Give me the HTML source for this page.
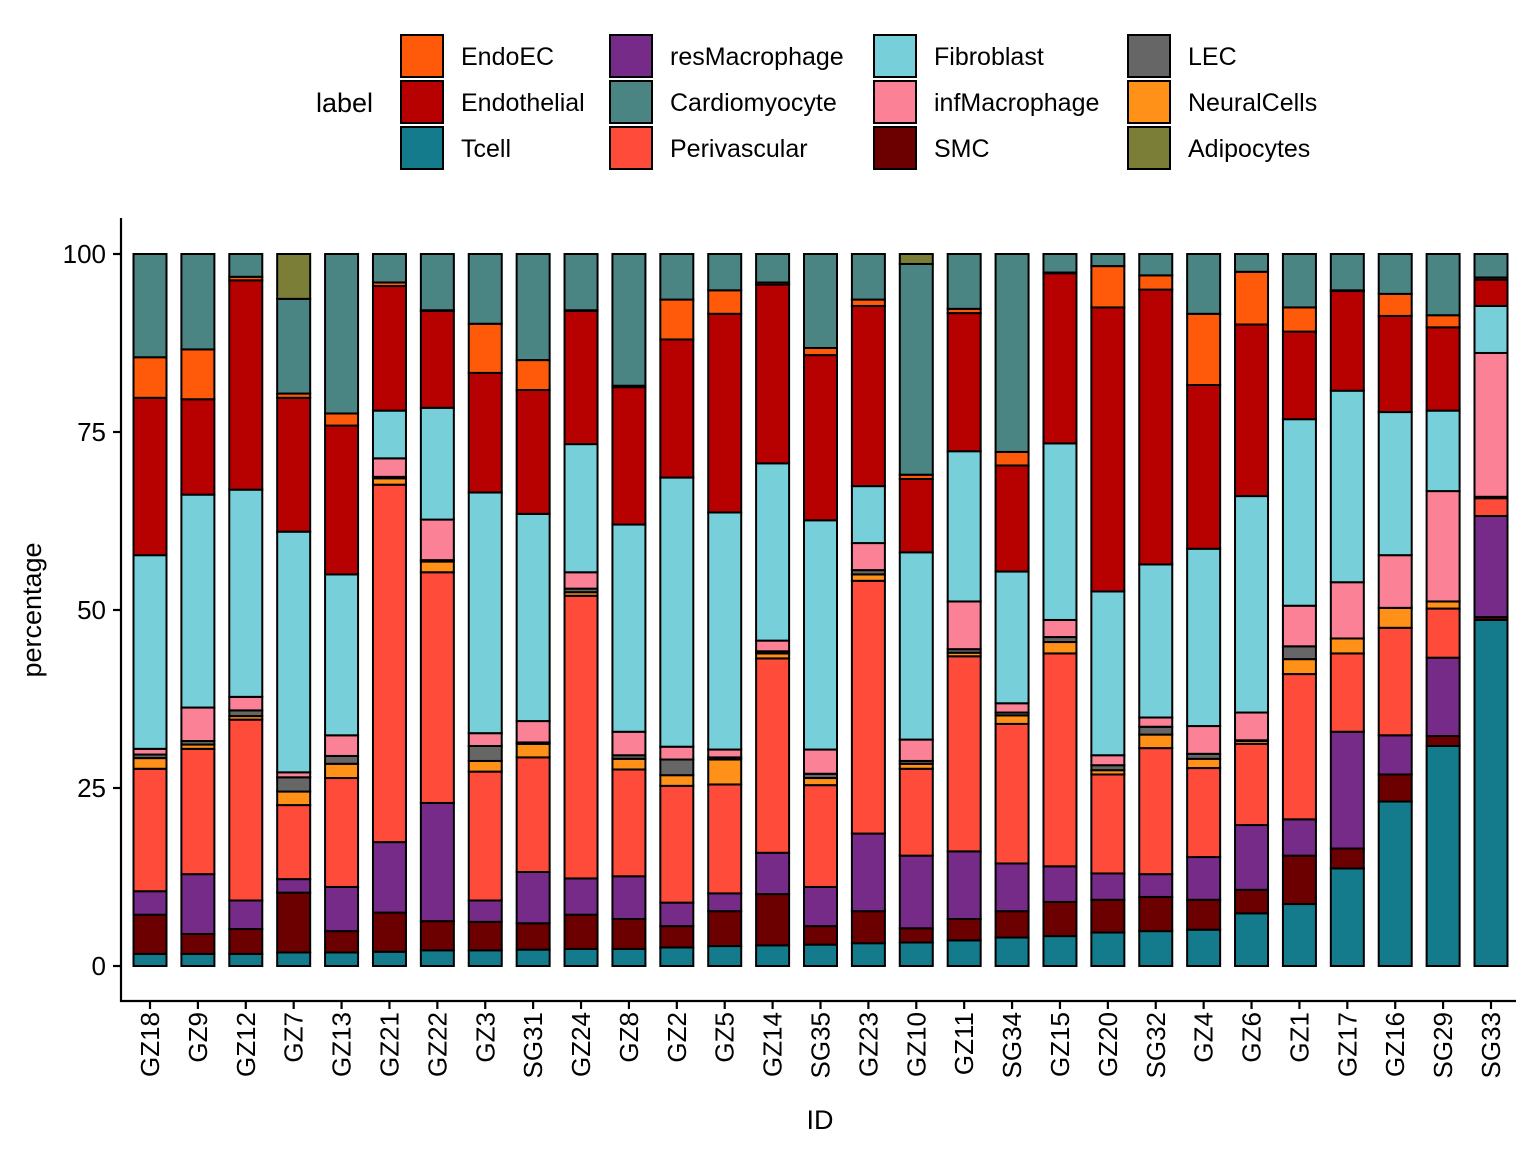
<!DOCTYPE html>
<html><head><meta charset="utf-8">
<style>
html,body{margin:0;padding:0;background:#fff;}
svg{display:block;font-family:"Liberation Sans",Arial,sans-serif;}
</style></head>
<body>
<svg id="chart" width="1536" height="1152" viewBox="0 0 1536 1152" xmlns="http://www.w3.org/2000/svg">
<g id="legend"></g>
<g id="plot"></g>
<g id="axes"></g>
</svg>
<script>
const ids = ["GZ18","GZ9","GZ12","GZ7","GZ13","GZ21","GZ22","GZ3","SG31","GZ24","GZ8","GZ2","GZ5","GZ14","SG35","GZ23","GZ10","GZ11","SG34","GZ15","GZ20","SG32","GZ4","GZ6","GZ1","GZ17","GZ16","SG29","SG33"];
const stackOrder = ["Tcell","SMC","resMacrophage","Perivascular","NeuralCells","LEC","infMacrophage","Fibroblast","Endothelial","EndoEC","Cardiomyocyte","Adipocytes"];
const legendOrder = ["EndoEC","Endothelial","Tcell","resMacrophage","Cardiomyocyte","Perivascular","Fibroblast","infMacrophage","SMC","LEC","NeuralCells","Adipocytes"];
const yTicks = [0,25,50,75,100];
const tcell = [1.7,1.7,1.7,1.9,1.9,2.0,2.2,2.2,2.3,2.4,2.4,2.6,2.8,2.9,3.0,3.2,3.3,3.6,4.0,4.2,4.7,4.9,5.1,7.4,8.7,13.7,23.1,30.9,48.6];
const smc = [5.5,2.8,3.5,8.4,3.0,5.5,4.1,4.0,3.7,4.8,4.2,3.0,4.9,7.2,2.6,4.5,2.0,3.0,3.7,4.8,4.6,4.8,4.2,3.3,6.8,2.8,3.8,1.4,0.4];
const resMacrophage = [3.3,8.4,4.0,1.9,6.2,9.9,16.6,3.0,7.2,5.1,6.0,3.3,2.5,5.8,5.5,10.9,10.2,9.5,6.7,5.0,3.7,3.2,6.0,9.1,5.1,16.4,5.5,11.0,14.2];
const perivascular = [17.2,17.6,25.4,10.4,15.3,50.2,32.4,18.1,16.1,39.7,15.0,16.4,15.3,27.3,14.3,35.5,12.2,27.4,19.6,29.9,13.9,17.7,12.5,11.4,20.4,11.0,15.1,6.9,2.5];
const neuralCells = [1.5,0.6,0.5,1.9,2.0,0.9,1.5,1.5,1.9,0.5,1.5,1.5,3.5,0.7,1.0,0.9,0.7,0.5,1.2,1.6,0.6,1.9,1.3,0.4,2.1,2.1,2.8,1.0,0.2];
const lec = [0.5,0.5,0.8,2.0,1.1,0.2,0.2,2.1,0.2,0.5,0.5,2.2,0.3,0.3,0.6,0.6,0.4,0.5,0.4,0.7,0.7,1.1,0.7,0.1,1.8,0,0,0,0];
const infMacrophage = [0.8,4.7,1.9,0.7,2.9,2.6,5.7,1.8,3.0,2.3,3.3,1.8,1.1,1.5,3.4,3.8,3.0,6.7,1.3,2.4,1.4,1.3,3.9,3.9,5.7,7.9,7.4,15.5,20.2];
const fibroblast = [27.2,29.9,29.1,33.8,22.6,6.7,15.7,33.8,29.1,18.0,29.1,37.8,33.3,24.9,32.2,8.0,26.3,21.1,18.5,24.8,23.0,21.5,24.9,30.4,26.2,26.9,20.1,11.3,6.6];
const endothelial = [22.1,13.4,29.4,18.8,20.9,17.5,13.6,16.8,17.4,18.7,19.3,19.4,27.9,25.1,23.2,25.3,10.3,19.4,14.9,23.9,39.9,38.6,23.0,24.1,12.3,14.0,13.5,11.7,3.7];
const endoEC = [5.7,7.0,0.5,0.6,1.7,0.5,0.1,6.9,4.2,0.1,0.2,5.6,3.3,0.3,1.0,0.9,0.6,0.6,1.9,0.1,5.8,2.0,10.0,7.4,3.4,0.1,3.1,1.7,0.3];
const cardiomyocyte = [14.5,13.4,3.2,13.3,22.4,4.0,7.9,9.8,14.9,7.9,18.5,6.4,5.1,4.0,13.2,6.4,29.6,7.7,27.8,2.6,1.7,3.0,8.4,2.5,7.5,5.1,5.6,8.6,3.3];
const adipocytes = [0,0,0,6.3,0,0,0,0,0,0,0,0,0,0,0,0,1.4,0,0,0,0,0,0,0,0,0,0,0,0];

const series = {Tcell:tcell,SMC:smc,resMacrophage:resMacrophage,Perivascular:perivascular,NeuralCells:neuralCells,LEC:lec,infMacrophage:infMacrophage,Fibroblast:fibroblast,Endothelial:endothelial,EndoEC:endoEC,Cardiomyocyte:cardiomyocyte,Adipocytes:adipocytes};
const colors = {EndoEC:"#FF590A",Endothelial:"#B70000",Tcell:"#147B8D",resMacrophage:"#772B88",Cardiomyocyte:"#4A8584",Perivascular:"#FF4B3A",Fibroblast:"#76CFD9",infMacrophage:"#FB8197",SMC:"#6C0000",LEC:"#666666",NeuralCells:"#FF9018",Adipocytes:"#7A7E36"};

const NS = "http://www.w3.org/2000/svg";
function mk(tag, attrs, parent){const e=document.createElementNS(NS,tag);for(const k in attrs)e.setAttribute(k,attrs[k]);parent.appendChild(e);return e;}
const x0 = 150, step = (1491-150)/28, barW = 33;
function xScale(i){return x0 + i*step;}
function yScale(v){return 966 - v*7.12;}

const plot = document.getElementById('plot');
ids.forEach((id,i)=>{
  let cum = 0;
  const g = mk('g',{},plot);
  
  
  stackOrder.forEach(cat=>{
    const v = series[cat][i];
    if(v<=0) return;
    const yTop = yScale(cum+v), yBot = yScale(cum);
    const r = mk('rect',{x:xScale(i)-barW/2,y:yTop,width:barW,height:yBot-yTop,fill:colors[cat],stroke:"#000","stroke-width":2},g);
    
    
    cum += v;
  });
});

const axes = document.getElementById('axes');
const yAxis = mk('line',{x1:121,y1:218,x2:121,y2:1002,stroke:"#000","stroke-width":2.2},axes);


const xAxis = mk('line',{x1:120,y1:1001,x2:1516,y2:1001,stroke:"#000","stroke-width":2.2},axes);


yTicks.forEach(t=>{
  mk('line',{x1:113,y1:yScale(t),x2:121,y2:yScale(t),stroke:"#000","stroke-width":2.2},axes);
  const tx = mk('text',{x:106,y:yScale(t)+9,"text-anchor":"end","font-size":26,fill:"#000"},axes);
  tx.textContent = t;
  
  
});
ids.forEach((id,i)=>{
  const x = xScale(i);
  mk('line',{x1:x,y1:1001,x2:x,y2:1009,stroke:"#000","stroke-width":2.2},axes);
  const tx = mk('text',{x:0,y:0,"text-anchor":"end","font-size":26,fill:"#000",transform:`translate(${x+9},1012) rotate(-90)`},axes);
  tx.textContent = id;
  
  
});
const yt = mk('text',{x:0,y:0,"text-anchor":"middle","font-size":27,fill:"#000",transform:"translate(41,610) rotate(-90)"},axes);
yt.textContent = "percentage";


const xt = mk('text',{x:820,y:1129,"text-anchor":"middle","font-size":27,fill:"#000"},axes);
xt.textContent = "ID";



const legend = document.getElementById('legend');
const lt = mk('text',{x:316,y:112,"font-size":27,fill:"#000"},legend);
lt.textContent = "label";


const colKeyX = [400,609,873,1127], rowY = [34,80,126];
legendOrder.forEach((cat,k)=>{
  const c = Math.floor(k/3), r = k%3;
  const g = mk('g',{},legend);
  
  
  mk('rect',{x:colKeyX[c]+1,y:rowY[r]+1,width:42,height:42,fill:colors[cat],stroke:"#000","stroke-width":2},g);
  const t = mk('text',{x:colKeyX[c]+61,y:rowY[r]+31,"font-size":25,fill:"#000"},g);
  t.textContent = cat;
});
</script>
</body></html>
